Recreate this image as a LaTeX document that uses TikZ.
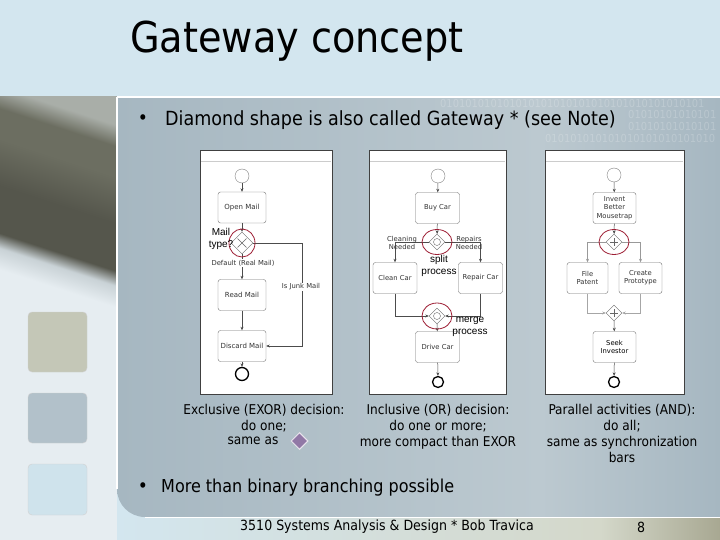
\documentclass[tikz,border=0pt]{standalone}
\usepackage{fontspec}
\setmainfont{DejaVu Sans Condensed}
\newfontfamily\diafont{DejaVu Sans}
\newfontfamily\handfont{Liberation Sans}
\usetikzlibrary{positioning,shapes.geometric,arrows.meta}

\definecolor{headblue}{HTML}{D3E6EF}
\definecolor{slateA}{HTML}{A6B7C1}
\definecolor{slateB}{HTML}{BCC9D0}
\definecolor{stripTop}{HTML}{A9AEA8}
\definecolor{stripOlive}{HTML}{6C6E61}
\definecolor{stripDark}{HTML}{55564C}
\definecolor{stripEdge}{HTML}{C9D2D6}
\definecolor{stripLow}{HTML}{E6EDF1}
\definecolor{markred}{HTML}{9E1F35}
\definecolor{tilekhaki}{HTML}{C4C7B7}
\definecolor{tilegray}{HTML}{B2C1CA}
\definecolor{tileblue}{HTML}{CFE3EC}
\definecolor{gemviolet}{HTML}{9178A6}
\definecolor{footlight}{HTML}{D4D8CA}
\definecolor{footkhaki}{HTML}{A8A892}

\pgfdeclareverticalshading{stripshade}{100bp}{color(0bp)=(stripLow); color(25bp)=(stripLow);
  color(32.5bp)=(stripLow); color(37.5bp)=(stripEdge); color(41bp)=(stripDark);
  color(52bp)=(stripDark); color(63bp)=(stripOlive); color(70bp)=(stripOlive);
  color(75bp)=(stripTop); color(100bp)=(stripTop)}

\tikzset{
  shot/.style={draw=black!75, fill=white, line width=0.6pt},
  task/.style={draw=black!55, rounded corners=2.5pt, fill=white, minimum width=44pt,
    minimum height=31pt, align=center, inner sep=1pt, text=black!80,
    font=\diafont\fontsize{6.8}{8.3}\selectfont},
  gate/.style={diamond, draw=black!60, fill=white, minimum size=16pt, inner sep=0pt},
  startev/.style={circle, draw=black!50, minimum size=14pt, inner sep=0pt},
  endev/.style={circle, draw=black, line width=1.3pt, minimum size=11pt, inner sep=0pt},
  flow/.style={draw=black!70, line width=0.5pt, -{Stealth[length=3.5pt,width=3pt]}},
  flowlabel/.style={align=center, inner sep=0.5pt, text=black!80,
    font=\diafont\fontsize{6.8}{7.6}\selectfont},
  ringmark/.style={draw=markred, line width=0.8pt},
  handnote/.style={align=center, inner sep=0pt, font=\handfont\fontsize{10}{11.5}\selectfont},
  caption/.style={align=center, inner sep=0pt, font=\fontsize{13.5}{16}\selectfont},
  bulletline/.style={anchor=west, inner sep=0pt},
  tile/.style={draw=black!18, rounded corners=4pt},
  binary/.style={anchor=west, inner sep=0pt, text=white, opacity=0.2,
    font=\fontsize{11}{11}\selectfont},
}

\begin{document}
\begin{tikzpicture}[x=1pt,y=-1pt]
\useasboundingbox (0,0) rectangle (720,540);

% slide background
\fill[headblue] (0,0) rectangle (720,540);
\shade[left color=headblue, right color=footlight] (117,517) rectangle (600,540);
\shade[left color=footlight, right color=footkhaki] (600,517) rectangle (720,540);
\fill[stripLow] (0,97) rectangle (117,540);
\shade[shading=stripshade, shading angle=-18] (0,97) rectangle (117,330);
\shade[left color=slateA, right color=slateB]
  (117,97) -- (540,97) -- (540,517) -- (145,517)
  .. controls (129.5,517) and (117,504.5) .. (117,489) -- cycle;
\shade[left color=slateB, right color=slateA] (540,97) rectangle (720,517);
\draw[white, line width=1.2pt] (117,97) -- (720,97);
\draw[white, line width=1.2pt] (117,97) -- (117,489);
\draw[white, line width=1pt] (145,517) -- (720,517);

% binary texture
\node[binary] (bin1) at (440,103) {010101010101010101010101010101010101010101};
\node[binary] (bin2) at (628,114) {01010101010101};
\node[binary] (bin3) at (628,126) {01010101010101};
\node[binary] (bin4) at (545,138) {010101010101010101010101010};

% side tiles
\fill[tile, fill=tilekhaki] (28,312) rectangle (87,372);
\fill[tile, fill=tilegray] (28,393) rectangle (87,443);
\fill[tile, fill=tileblue] (28,464) rectangle (87,515);

% title and bullets
\node[anchor=base west, inner sep=0pt, font=\fontsize{42.5}{44}\selectfont] (title) at (130,53) {Gateway concept};
\node[inner sep=0pt, font=\fontsize{19}{22}\selectfont] (dot1) at (143,120) {•};
\node[bulletline, font=\fontsize{19.5}{22}\selectfont] (b1) at (165,120) {Diamond shape is also called Gateway * (see Note)};
\node[inner sep=0pt, font=\fontsize{19}{22}\selectfont] (dot2) at (143,488) {•};
\node[bulletline, font=\fontsize{17.8}{22}\selectfont] (b2) at (161,488) {More than binary branching possible};

% screenshots
\draw[shot] (200,150) rectangle (332,394);
\draw[shot] (369,150) rectangle (506,394);
\draw[shot] (545,150) rectangle (684,394);
\draw[black!20] (201,161) -- (331,161);
\draw[black!20] (370,161) -- (505,161);
\draw[black!20] (546,161) -- (683,161);

% exclusive gateway
\node[startev] (s1) at (242,176) {};
\node[task, minimum width=48pt, font=\diafont\fontsize{7}{8.3}\selectfont] (open) at (242,207.5) {Open Mail};
\node[gate, minimum size=22pt] (g1) at (242,243) {};
\node[task, minimum width=48pt, font=\diafont\fontsize{7}{8.3}\selectfont] (read) at (242,295) {Read Mail};
\node[task, minimum width=48pt, font=\diafont\fontsize{7}{8.3}\selectfont] (discard) at (242,346) {Discard Mail};
\node[endev, minimum size=13pt] (e1) at (242,374) {};
\coordinate (k1) at (302,346);
\draw[black!60] (g1.center) ++(-4.5,-4.5) -- ++(9,9) (g1.center) ++(-4.5,4.5) -- ++(9,-9);
\draw[flow] (s1) -- (open);
\draw[flow] (open) -- (g1);
\draw[flow] (g1) -- (read);
\draw[flow] (read) -- (discard);
\draw[flow] (discard) -- (e1);
\draw[flow] (g1.east) -| (k1) -- (discard.east);
\node[flowlabel, fill=white] (dflt) at (243,263) {Default (Real Mail)};
\node[flowlabel, fill=white] (junk) at (301,287) {Is Junk Mail};
\draw[ringmark] (g1.center) ellipse [x radius=13pt, y radius=14pt];
\node[handnote] (mtype) at (221,239) {Mail\\type?};

% inclusive gateway
\node[startev] (s2) at (438,176) {};
\node[task] (buy) at (437.5,208) {Buy Car};
\node[gate] (g2) at (437,242) {};
\node[task] (clean) at (395,278) {Clean Car};
\node[task] (repair) at (480.5,278) {Repair Car};
\node[gate] (m2) at (437,316) {};
\node[task] (drive) at (437.5,347) {Drive Car};
\node[endev] (e2) at (438,382) {};
\draw[black!60] (g2.center) circle [radius=3.5pt];
\draw[black!60] (m2.center) circle [radius=3.5pt];
\draw[flow] (s2) -- (buy);
\draw[flow] (buy) -- (g2);
\draw[flow] (g2.west) -| (clean.north);
\draw[flow] (g2.east) -| (repair.north);
\draw[flow] (clean.south) |- (m2.west);
\draw[flow] (repair.south) |- (m2.east);
\draw[flow] (m2) -- (drive);
\draw[flow] (drive) -- (e2);
\node[flowlabel] (cneed) at (402,243) {Cleaning\\Needed};
\node[flowlabel] (rneed) at (469,243) {Repairs\\Needed};
\draw[ringmark] (g2.center) ellipse [x radius=15pt, y radius=12.5pt];
\draw[ringmark] (m2.center) ellipse [x radius=15pt, y radius=13pt];
\node[handnote] (split) at (439,266) {split\\process};
\node[handnote] (merge) at (470,327) {merge\\process};

% parallel gateway
\node[startev] (s3) at (614,175) {};
\node[task, minimum width=43pt] (invent) at (614.5,208) {Invent\\Better\\Mousetrap};
\node[gate] (g3) at (614,242) {};
\node[task, minimum width=41pt] (patent) at (587.5,278) {File\\Patent};
\node[task, minimum width=43pt] (proto) at (640.5,278) {Create\\Prototype};
\node[gate] (m3) at (614,313) {};
\node[task, minimum width=43pt, text=black] (seek) at (614.5,347) {Seek\\Investor};
\node[endev] (e3) at (614,382) {};
\draw[black!60] (g3.center) ++(-4,0) -- ++(8,0) (g3.center) ++(0,-4) -- ++(0,8);
\draw[black!60] (m3.center) ++(-4,0) -- ++(8,0) (m3.center) ++(0,-4) -- ++(0,8);
\draw[flow] (s3) -- (invent);
\draw[flow] (invent) -- (g3);
\draw[flow, draw=black!40] (g3.west) -| (patent.north);
\draw[flow, draw=black!40] (g3.east) -| (proto.north);
\draw[flow, draw=black!35] (patent.south) |- (m3.west);
\draw[flow, draw=black!35] (proto.south) |- (m3.east);
\draw[flow] (m3) -- (seek);
\draw[flow] (seek) -- (e3);
\draw[ringmark] (g3.center) ellipse [x radius=15pt, y radius=12.5pt];

% captions
\node[caption, anchor=north] (cap1) at (264,404) {Exclusive (EXOR) decision:\\do one;};
\node[caption] (sameas) at (253,441) {same as};
\node[diamond, fill=gemviolet, draw=white!80!gemviolet, line width=1pt,
  minimum size=17pt, inner sep=0pt, right=12pt of sameas] (gem) {};
\node[caption, anchor=north] (cap2) at (438,404) {Inclusive (OR) decision:\\do one or more;\\more compact than EXOR};
\node[caption, anchor=north] (cap3) at (622,404) {Parallel activities (AND):\\do all;\\same as synchronization\\bars};

% footer
\node[inner sep=0pt, font=\fontsize{14}{16}\selectfont] (foot) at (387,527) {3510 Systems Analysis \& Design * Bob Travica};
\node[inner sep=0pt, font=\fontsize{14}{16}\selectfont] (page) at (641,527) {8};
\end{tikzpicture}
\end{document}
